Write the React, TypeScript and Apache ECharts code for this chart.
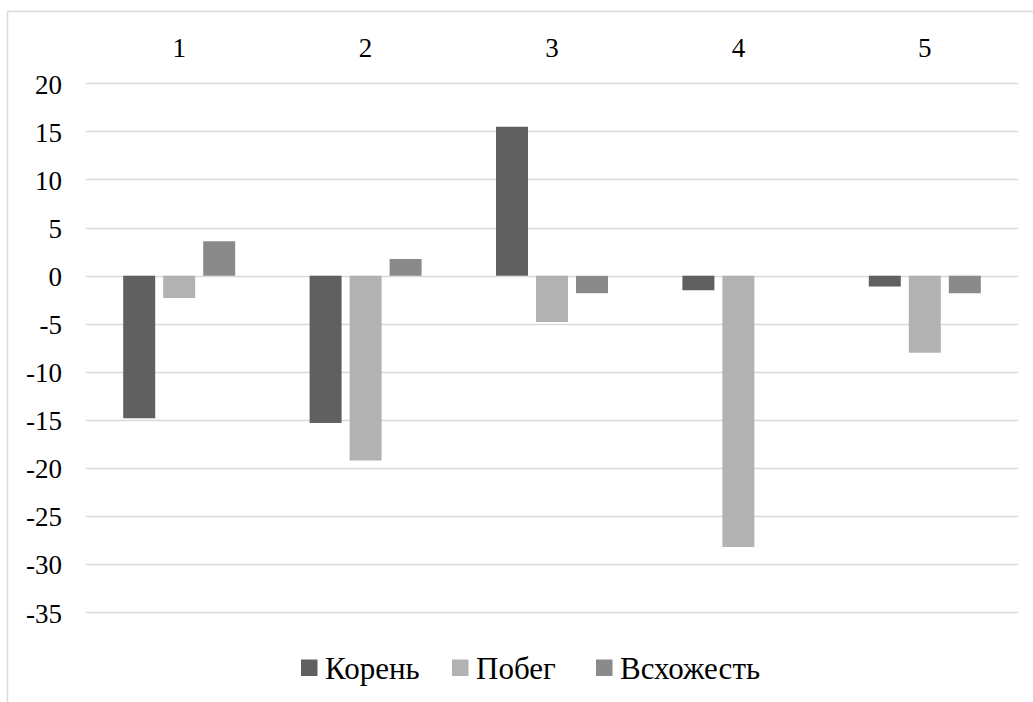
import React, { useEffect, useRef } from "react";
import * as echarts from "echarts";

const categories = ["1", "2", "3", "4", "5"];
const koren = [-14.8, -15.3, 15.5, -1.5, -1.1];
const pobeg = [-2.3, -19.2, -4.8, -28.2, -8.0];
const vskhozhest = [3.6, 1.75, -1.8, 0, -1.8];
const yTicks = [20, 15, 10, 5, 0, -5, -10, -15, -20, -25, -30, -35];

const seriesNames = ["Корень", "Побег", "Всхожесть"];
const seriesColors = ["#606060", "#b2b2b2", "#8a8a8a"];

const AXIS_FONT = "27px 'Liberation Serif'";
const LEGEND_FONT = "31px 'Liberation Serif'";
// legend item left edges
const legendX = [301, 452, 596];

export default function App() {
  const ref = useRef<HTMLDivElement>(null);

  useEffect(() => {
    if (!ref.current) return;
    const chart = echarts.init(ref.current, undefined, { renderer: "svg" });
    const data = [koren, pobeg, vskhozhest];
    chart.setOption({
      animation: false,
      grid: { left: 86, right: 15, top: 83.5, bottom: 89.5, containLabel: false },
      xAxis: {
        type: "category",
        position: "top",
        data: categories,
        axisLine: { show: false },
        axisTick: { show: false },
        axisLabel: { show: false },
      },
      yAxis: {
        type: "value",
        min: -35,
        max: 20,
        interval: 5,
        axisLine: { show: false },
        axisTick: { show: false },
        axisLabel: { show: false },
        splitLine: { lineStyle: { color: "#d9d9d9", width: 1.3 } },
      },
      series: seriesNames.map((name, i) => ({
        name,
        type: "bar",
        data: data[i],
        barWidth: 32,
        barGap: "25%",
        itemStyle: { color: seriesColors[i] },
      })),
    });

    // Axis labels and legend, placed through the chart's own scales
    const gridTop = chart.convertToPixel({ yAxisIndex: 0 }, 20) as number;
    const xLabels = categories.map((c) => ({
      type: "text",
      x: chart.convertToPixel({ xAxisIndex: 0 }, c) as number,
      y: gridTop - 36,
      style: { text: c, font: AXIS_FONT, fill: "#000", align: "center", verticalAlign: "middle" },
    }));
    const yLabels = yTicks.map((v) => ({
      type: "text",
      x: 62,
      y: (chart.convertToPixel({ yAxisIndex: 0 }, v) as number) + 1,
      style: { text: String(v), font: AXIS_FONT, fill: "#000", align: "right", verticalAlign: "middle" },
    }));
    const legendItems: any[] = [];
    seriesNames.forEach((name, i) => {
      legendItems.push({
        type: "rect",
        shape: { x: legendX[i], y: 659.5, width: 16.5, height: 16.5 },
        style: { fill: seriesColors[i] },
      });
      legendItems.push({
        type: "text",
        x: legendX[i] + 24,
        y: 668,
        style: { text: name, font: LEGEND_FONT, fill: "#000", align: "left", verticalAlign: "middle" },
      });
    });

    chart.setOption({
      graphic: [
        {
          type: "line",
          shape: { x1: 7.5, y1: 11.5, x2: 1033, y2: 11.5 },
          style: { stroke: "#d9d9d9", lineWidth: 1.5 },
        },
        {
          type: "line",
          shape: { x1: 7.5, y1: 11.5, x2: 7.5, y2: 702 },
          style: { stroke: "#d9d9d9", lineWidth: 1.5 },
        },
      ]
        .concat(xLabels as any)
        .concat(yLabels as any)
        .concat(legendItems),
    });
    return () => chart.dispose();
  }, []);

  return (
    <div
      ref={ref}
      style={{ position: "absolute", left: 0, top: 0, width: 1033, height: 702, background: "#fff" }}
    />
  );
}
